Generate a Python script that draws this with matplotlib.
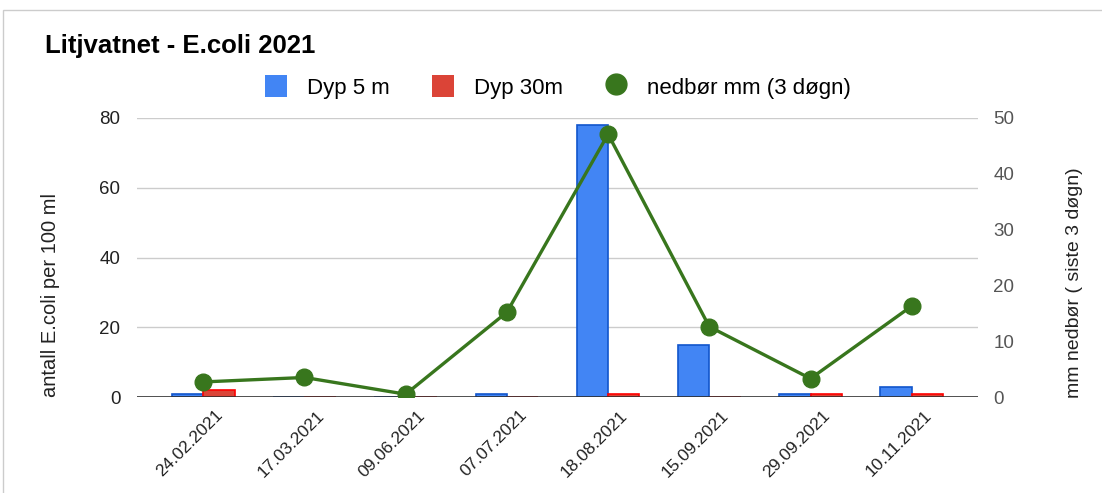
import matplotlib
matplotlib.use("Agg")
import matplotlib.pyplot as plt
import matplotlib.transforms as mtransforms
from matplotlib.patches import Rectangle, Patch
from matplotlib.lines import Line2D
import numpy as np

plt.rcParams['font.family'] = ['Liberation Sans', 'DejaVu Sans']

dates = ["24.02.2021", "17.03.2021", "09.06.2021", "07.07.2021",
         "18.08.2021", "15.09.2021", "29.09.2021", "10.11.2021"]
dyp5 = [1, 0, 0, 1, 78, 15, 1, 3]
dyp30 = [2, 0, 0, 0, 1, 0, 1, 1]
nedbor = [2.7, 3.5, 0.5, 15.2, 47.1, 12.6, 3.3, 16.3]

left_ticks = [0, 20, 40, 60, 80]
right_ticks = [0, 10, 20, 30, 40, 50]

W, H = 1102, 493
fig = plt.figure(figsize=(W / 100, H / 100), dpi=100)
ax = fig.add_axes([137 / W, 1 - 397 / H, (978 - 137) / W, (397 - 118) / H])
ax2 = ax.twinx()

x = np.arange(len(dates))
bw = 0.31
ax.bar(x - bw / 2, dyp5, width=bw, color="#4285F4", edgecolor="#1155CC",
       linewidth=1.2, zorder=2)
ax.bar(x + bw / 2, dyp30, width=bw, color="#DB4437", edgecolor="#FF0000",
       linewidth=1.2, zorder=2)

ax.set_ylim(0, 80)
ax.set_xlim(-0.655, len(dates) - 1 + 0.655)
ax.set_yticks(left_ticks)
ax.set_yticklabels([str(t) for t in left_ticks], fontsize=13.5, color="#222222")
ax.tick_params(axis='y', length=0, pad=12)
ax.grid(axis='y', color="#cccccc", linewidth=1, zorder=0)
ax.axhline(0, color="#333333", linewidth=1.2, zorder=3)
for s in ax.spines.values():
    s.set_visible(False)
for s in ax2.spines.values():
    s.set_visible(False)

ax.set_xticks(x)
ax.set_xticklabels(dates, rotation=45, ha='right', rotation_mode='anchor',
                   fontsize=12.5, color="#222222")
ax.tick_params(axis='x', length=0, pad=4)
offset = mtransforms.ScaledTranslation(12 / 100, -5 / 100, fig.dpi_scale_trans)
for lbl in ax.get_xticklabels():
    lbl.set_transform(lbl.get_transform() + offset)

ax2.plot(x, nedbor, color="#38761D", linewidth=2.4, marker='o', markersize=12,
         zorder=4)
ax2.set_ylim(0, 50)
ax2.set_yticks(right_ticks)
ax2.set_yticklabels([str(t) for t in right_ticks], fontsize=13.5, color="#555555")
ax2.tick_params(axis='y', length=0, pad=11)

ax.set_ylabel("antall E.coli per 100 ml", fontsize=14.5, color="#222222")
ax.yaxis.set_label_coords(60 / W, 1 - 295 / H, transform=fig.transFigure)
ax2.set_ylabel("mm nedbør ( siste 3 døgn)", fontsize=14, color="#222222")
ax2.yaxis.set_label_coords(1066 / W, 1 - 283 / H, transform=fig.transFigure)

fig.text(45 / W, 1 - 46 / H, "Litjvatnet - E.coli 2021", fontsize=18.5,
         fontweight='bold', va='center', ha='left', color="#000000")

handles = [Patch(facecolor="#4285F4"), Patch(facecolor="#DB4437"),
           Line2D([], [], color="#38761D", marker='o', linestyle='none', markersize=15)]
fig.legend(handles, ["Dyp 5 m", "Dyp 30m", "nedbør mm (3 døgn)"],
           loc='center', bbox_to_anchor=(558 / W, 1 - 87 / H), ncol=3,
           frameon=False, fontsize=16, handlelength=1.0, handleheight=1.1,
           columnspacing=1.9, handletextpad=0.9)

fig.patches.append(Rectangle((3 / W, -0.1), 1.2, 1 - 10 / H + 0.1,
                             transform=fig.transFigure, fill=False,
                             edgecolor="#cccccc", linewidth=1))

fig.savefig("out.png", dpi=100)
